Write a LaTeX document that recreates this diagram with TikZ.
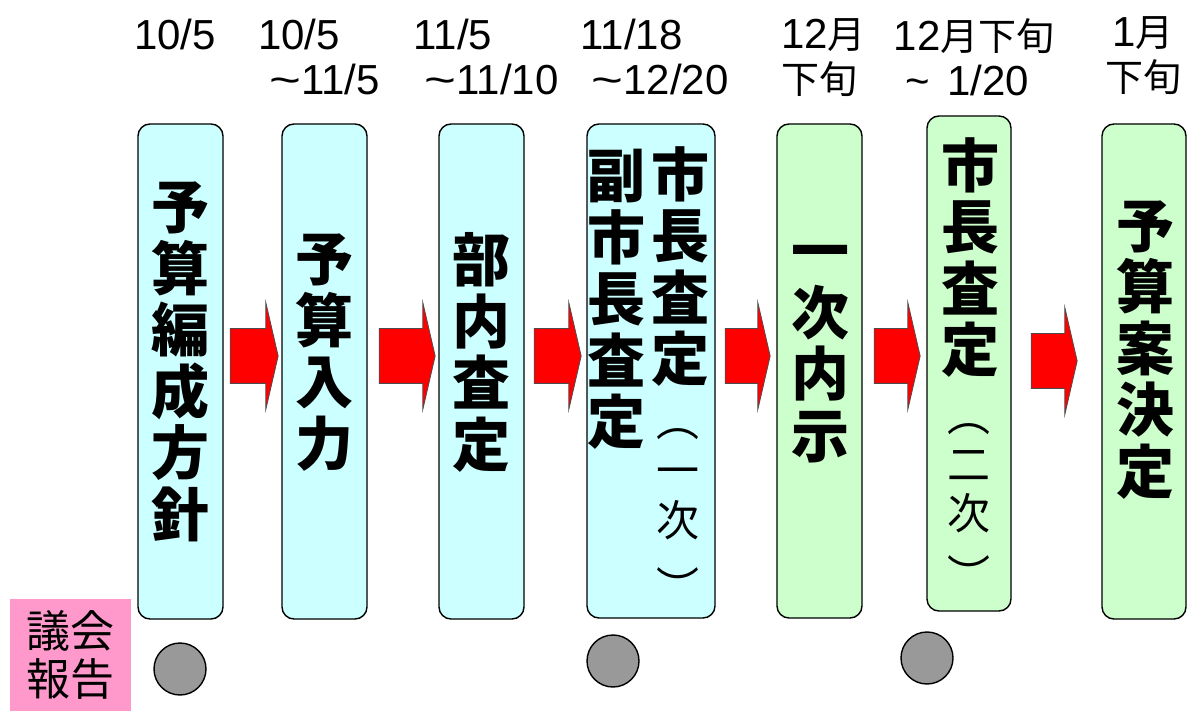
\documentclass[tikz,border=0pt]{standalone}
\usepackage{fontspec}
\setmainfont{Liberation Sans}
\newfontfamily\jpfont{Noto Sans CJK JP}
\newcommand\jp[1]{{\jpfont\fontsize{38}{45}\selectfont #1}}
\newcommand\wave{\scalebox{1.3}[1]{\textasciitilde}}
\usepackage{xcolor}
\usetikzlibrary{shapes.arrows}
\definecolor{stepcyan}{HTML}{CCFFFF}
\definecolor{stepgreen}{HTML}{CCFFCC}
\definecolor{notepink}{HTML}{FF99CC}
\definecolor{dotgray}{HTML}{999999}

\begin{document}
\begin{tikzpicture} [
	x=1pt, y=-1pt, % one unit per pixel, origin at the top left
	every node/.style={inner sep=0pt},
	stepbox/.style={draw, line width=1.4pt, rounded corners=12pt, minimum width=85pt, minimum height=495pt}, % the tall rounded boxes
	steptext/.style={font=\jpfont\bfseries\fontsize{58}{61.5}\selectfont, align=center}, % one character per line
	subtext/.style={font=\jpfont\fontsize{43}{50}\selectfont, align=center},
	datetext/.style={font=\fontsize{42}{45}\selectfont, align=left, anchor=north west},
	redarrow/.style={single arrow, draw=black!70, fill=red, line width=0.8pt, inner ysep=27pt, minimum width=106pt, single arrow head extend=26pt, single arrow tip angle=154},
	dot/.style={circle, draw, line width=1.4pt, fill=dotgray, minimum size=52pt},
	notebox/.style={fill=notepink, minimum width=121pt, minimum height=112pt, font=\jpfont\fontsize{44}{48}\selectfont, align=center},
	]
	\useasboundingbox (0,0) rectangle (1192,711);

	% dates
	\node[datetext] (d0) at (134,19) {10/5};
	\node[datetext] (d1) at (258,19) {10/5\\\hspace{11pt}\wave11/5};
	\node[datetext] (d2) at (413.5,19) {11/5\\\hspace{11pt}\wave11/10};
	\node[datetext] (d3) at (580.5,19) {11/18\\\hspace{11pt}\wave12/20};
	\node[datetext] (d4) at (781,18) {12\jp{月}\\\jp{下旬}};
	\node[datetext] (d5) at (893.5,18) {12\jp{月下旬}\\\ \textasciitilde\ \hspace{6pt}1/20};
	\node[datetext, align=center, anchor=north] (d6) at (1143,16) {1\jp{月}\\\jp{下旬}};

	% steps
	\node[stepbox, fill=stepcyan] (s0) at (180.5,371.5) {};
	\node[stepbox, fill=stepcyan] (s1) at (324.5,371.5) {};
	\node[stepbox, fill=stepcyan] (s2) at (481.5,371.5) {};
	\node[stepbox, fill=stepcyan, minimum width=128pt, minimum height=494pt] (s3) at (651,371) {};
	\node[stepbox, fill=stepgreen, minimum height=494pt] (s4) at (819.5,371) {};
	\node[stepbox, fill=stepgreen, minimum width=84pt] (s5) at (969,363.5) {};
	\node[stepbox, fill=stepgreen, minimum width=84pt] (s6) at (1144,371.5) {};

	\node[steptext] (t0) at (180.5,362) {予\\算\\編\\成\\方\\針};
	\node[steptext] (t1) at (324.5,352.5) {予\\算\\入\\力};
	\node[steptext] (t2) at (481.5,352.5) {部\\内\\査\\定};
	\node[steptext] (t3) at (616.5,299.5) {副\\市\\長\\査\\定};
	\node[steptext] (t3m) at (680.5,266.5) {市\\長\\査\\定};
	\node[subtext] (t3n) at (678,516.5) {︵\\一\\次\\[17pt]︶};
	\node[steptext] (t4) at (820,354) {一\\次\\内\\示};
	\node[steptext] (t5) at (970,257.5) {市\\長\\査\\定};
	\node[subtext, font=\jpfont\fontsize{43}{49}\selectfont] (t5n) at (969,507.5) {︵\\二\\次\\[13pt]︶};
	\node[steptext] (t6) at (1145,350) {予\\算\\案\\決\\定};

	% arrows between the steps
	\node[redarrow, minimum height=48pt] (a1) at (251,356) {};
	\node[redarrow, minimum height=56pt] (a2) at (404,356) {};
	\node[redarrow, minimum height=47pt] (a3) at (554.5,356) {};
	\node[redarrow, minimum height=45pt] (a4) at (744.5,356) {};
	\node[redarrow, minimum height=46pt] (a5) at (894,356) {};
	\node[redarrow, minimum height=46pt] (a6) at (1051,361) {};

	% council reports
	\node[notebox] (note) at (70.5,655) {議会\\報告};
	\node[dot] (c0) at (180,669) {};
	\node[dot] (c1) at (613,661) {};
	\node[dot] (c2) at (927,658) {};
\end{tikzpicture}
\end{document}
